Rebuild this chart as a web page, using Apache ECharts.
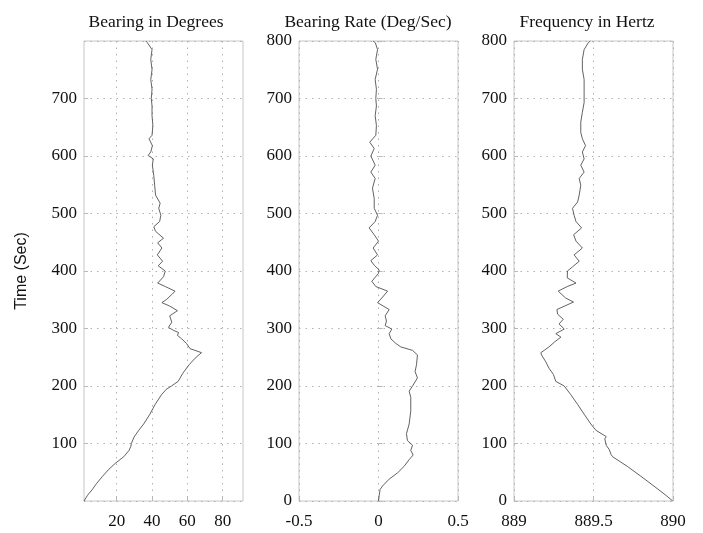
<!DOCTYPE html>
<html>
<head>
<meta charset="utf-8">
<script src="https://cdn.jsdelivr.net/npm/echarts@6/dist/echarts.min.js"></script>
<style>html,body{margin:0;padding:0;background:#fff}#c{width:703px;height:533px}</style>
</head>
<body>
<div id="c"></div>
<script>
// ---- data ----
const panelTitles = ['Bearing in Degrees', 'Bearing Rate (Deg/Sec)', 'Frequency in Hertz'];
const timeTicks = [0, 100, 200, 300, 400, 500, 600, 700, 800];
const bearingTicks = [20, 40, 60, 80];

const bearingTime = [0,10,20,30,43,55,66,77,88,95,100,111,123,134,151,168,185,194,200,208,222,237,248,258,265,274,282,288,293,297,302,311,322,331,339,345,351,360,365,373,379,390,400,409,417,428,440,449,457,469,477,486,497,509,518,532,549,566,584,595,601,607,618,630,636,653,670,687,700,716,733,750,768,785,797,800];
const bearingDeg = [1.5,3.5,6.2,8.5,12,15.5,19.4,24,27,28,28.3,29.8,32.5,35.3,38.8,41.8,45.4,48,51,54.8,57.4,61,64.3,68,61.5,59.5,56.8,54.4,55,52,49.3,51.2,50,54.4,50,45.6,48.4,51.5,53,47.5,43.2,46.5,47.5,43.5,46,43,45.6,43.2,46.5,42,41,44.3,45,43.8,44.6,42,41.5,41,40.2,40.7,37.8,39.3,40.2,38.3,40,40.5,40,40,39.6,40,39.3,40,39.3,40,37.4,36.5];

const rateTime = [0,9,20,26,38,49,60,72,80,88,97,105,117,134,157,180,191,200,214,225,237,254,262,268,274,282,291,299,305,313,322,333,345,353,365,373,382,396,402,410,418,428,440,452,463,475,486,497,509,526,544,561,572,584,600,613,624,636,653,670,687,700,716,733,751,768,785,797,800];
const rateDegSec = [0,0.004,0.01,0.025,0.067,0.12,0.16,0.193,0.218,0.203,0.214,0.182,0.176,0.193,0.203,0.203,0.193,0.214,0.245,0.23,0.239,0.245,0.214,0.14,0.109,0.078,0.067,0.084,0.042,0.05,0.042,0.067,-0.006,0.021,0.057,-0.017,-0.042,0,0.004,-0.027,-0.048,-0.006,-0.034,0,-0.027,-0.059,-0.021,-0.006,-0.027,-0.027,-0.038,-0.021,-0.048,-0.021,-0.048,-0.027,-0.055,-0.017,-0.013,-0.021,-0.013,-0.017,-0.013,-0.021,-0.006,-0.017,-0.006,-0.02,-0.034];

const freqTime = [0,10,26,43,60,77,81,89,97,108,112,123,134,151,168,185,200,208,220,231,242,254,258,262,268,277,285,291,299,308,316,325,333,346,353,365,373,379,388,400,407,417,428,440,452,463,475,486,497,509,520,532,549,561,572,584,595,607,618,630,641,659,676,693,710,733,751,768,785,797,800];
const freqHz = [889.998,889.955,889.88,889.798,889.714,889.62,889.61,889.6,889.58,889.571,889.58,889.515,889.483,889.441,889.4,889.357,889.316,889.263,889.248,889.22,889.2,889.173,889.169,889.19,889.22,889.257,889.295,889.263,889.316,889.283,889.31,889.274,889.27,889.374,889.325,889.278,889.335,889.39,889.335,889.336,889.367,889.41,889.378,889.43,889.39,889.375,889.425,889.39,889.378,889.368,889.4,889.41,889.42,889.41,889.441,889.42,889.441,889.43,889.45,889.43,889.42,889.42,889.43,889.441,889.441,889.441,889.43,889.43,889.441,889.467,889.48];

// ---- chart ----
const pairs = (xs, ts) => xs.map((v, i) => [v, ts[i]]);
const serif = '"Liberation Serif", "Times New Roman", serif';
const tickFont = { fontFamily: serif, fontSize: 17, color: '#111' };
const gridLine = { show: true, lineStyle: { color: '#b0b0b0', width: 1, type: [1.5, 5] } };
const tickStyle = { show: true, inside: true, length: 4, lineStyle: { color: '#b8b8b8' } };

const lefts = [84, 299, 514];
const grids = lefts.map(l => ({ left: l, top: 41, width: 159, height: 460, show: true, borderColor: '#c6c6c6', borderWidth: 1, backgroundColor: 'transparent' }));

const xAxes = [
  { gridIndex: 0, type: 'value', min: 1.5, max: 91.5,
    axisLine: { show: false }, axisTick: Object.assign({}, tickStyle, { customValues: bearingTicks }),
    axisLabel: Object.assign({}, tickFont, { margin: 12, customValues: bearingTicks }), splitLine: gridLine },
  { gridIndex: 1, type: 'value', min: -0.5, max: 0.5, interval: 0.5,
    axisLine: { show: false }, axisTick: tickStyle,
    axisLabel: Object.assign({}, tickFont, { margin: 12 }), splitLine: gridLine },
  { gridIndex: 2, type: 'value', min: 889, max: 890, interval: 0.5,
    axisLine: { show: false }, axisTick: tickStyle,
    axisLabel: Object.assign({}, tickFont, { margin: 12, formatter: v => String(v) }), splitLine: gridLine }
];
const yAxes = [0, 1, 2].map(i => ({
  gridIndex: i, type: 'value', min: timeTicks[0], max: timeTicks[timeTicks.length - 1], interval: 100,
  axisLine: { show: false }, axisTick: tickStyle,
  axisLabel: Object.assign({}, tickFont, { margin: 7, showMinLabel: i !== 0, showMaxLabel: i !== 0 }),
  splitLine: gridLine
}));

const lineStyle = { color: '#505050', width: 0.9 };
const series = [
  pairs(bearingDeg, bearingTime), pairs(rateDegSec, rateTime), pairs(freqHz, freqTime)
].map((d, i) => ({ type: 'line', xAxisIndex: i, yAxisIndex: i, data: d, showSymbol: false, symbol: 'none', lineStyle, animation: false, silent: true }));

const titleX = [156, 368, 587];
const graphic = panelTitles.map((t, i) => ({
  type: 'text', x: titleX[i], y: 22,
  style: { text: t, fill: '#111', font: '17.5px ' + serif, align: 'center', verticalAlign: 'middle', textAlign: 'center', textVerticalAlign: 'middle' }
}));
graphic.push({
  type: 'text', x: 22, y: 271, rotation: Math.PI / 2,
  style: { text: 'Time (Sec)', fill: '#111', font: '16px "Liberation Sans", Arial, sans-serif', align: 'center', verticalAlign: 'middle', textAlign: 'center', textVerticalAlign: 'middle' }
});

const chart = echarts.init(document.getElementById('c'), null, { renderer: 'canvas' });
chart.setOption({ animation: false, backgroundColor: '#fff', grid: grids, xAxis: xAxes, yAxis: yAxes, series, graphic });
</script>
</body>
</html>
